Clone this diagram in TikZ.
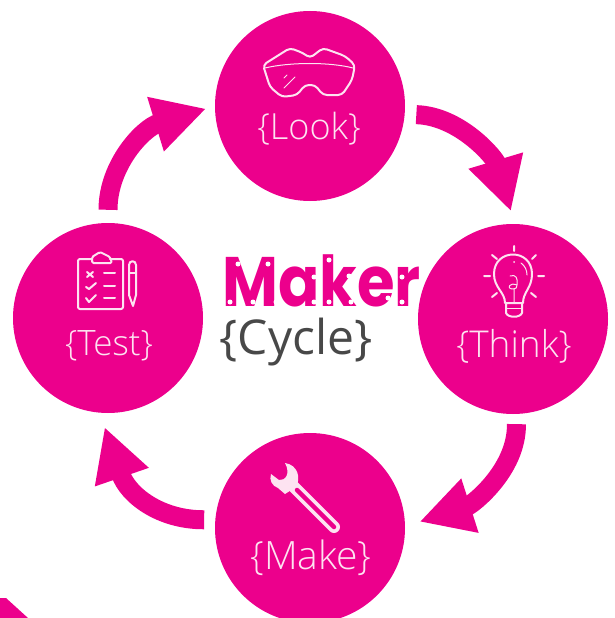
\documentclass[tikz,border=0pt]{standalone}
\usepackage{fontspec}
\usetikzlibrary{arrows.meta}
\setmainfont{Open Sans}
\newfontfamily\lightfont[UprightFont={* Light}]{Open Sans}
\newfontfamily\makerfont{Poppins}
\definecolor{makerpink}{HTML}{EC008C}
\definecolor{cyclegrey}{HTML}{484848}
\definecolor{iconwhite}{HTML}{FDE3F1}
\tikzset{
	stage/.style={circle, fill=makerpink, minimum size=190pt, inner sep=0pt},
	stagetext/.style={text=iconwhite, font=\lightfont\fontsize{#1}{#1}\selectfont, inner sep=0pt},
	flow/.style={draw=makerpink, line width=19pt, -{Triangle[length=53pt,width=53pt]}},
	icon/.style={draw=iconwhite, line width=2pt, line cap=round, line join=round}
}
\begin{document}
\begin{tikzpicture}[x=1pt,y=-1pt]
	\useasboundingbox (0,0) rectangle (615,618);
	\clip (0,0) rectangle (615,618);

	\node[stage] (look) at (310,106) {};
	\node[stage] (think) at (513,319) {};
	\node[stage] (make) at (310,528) {};
	\node[stage] (test) at (108,318) {};

	\node[stagetext=36] (looktext) at (309,129) {\{Look\}};
	\node[stagetext=37] (thinktext) at (514,346) {\{Think\}};
	\node[stagetext=39] (maketext) at (311,558) {\{Make\}};
	\node[stagetext=35] (testtext) at (109,346) {\{Test\}};

	\node[inner sep=0pt, anchor=base, text=makerpink, font=\makerfont\bfseries\fontsize{70}{70}\selectfont] (maker) at (321.5,306) {\scalebox{.87}[1]{Maker}};
	\node[inner sep=0pt, text=cyclegrey, font=\fontsize{48}{48}\selectfont] (cycle) at (296,342) {\{Cycle\}};
	\foreach \hx/\hy in {238/264,268/264,230/302,253/302,276/302,314/277,314/302,329/260,329/302,349/276,351/302,388/298,402/277,402/302}
		\fill[white] (\hx,\hy) circle (2.5);

	\draw[flow, shorten <=11.5pt, shorten >=13pt] (look.-5) .. controls (460,116) and (495,158) .. (think.89);
	\draw[flow, shorten <=10pt, shorten >=15pt] (think.-88) .. controls (517,470) and (472,505) .. (make.1);
	\draw[flow, shorten <=11pt, shorten >=15pt] (make.175) .. controls (160,520) and (128,495) .. (test.-95);
	\draw[flow, shorten <=13pt, shorten >=9pt] (test.90) .. controls (108,165) and (143,128) .. (look.180);

	% goggles
	\draw[icon, rounded corners=4pt] (263,65) -- (290,48) -- (303,53) -- (310,58) -- (323,48) -- (345,56) -- (355,65) -- (352,80) -- (342,95) -- (323,95) -- (315,85) -- (305,85) -- (297,95) -- (282,97) -- (270,87) -- cycle;
	\draw[icon, line width=1pt] (265,68) .. controls (290,62) and (330,62) .. (353,68);
	\draw[icon, line width=1pt] (284,78) -- (287,75) (284,88) -- (295,77);

	% clipboard and pencil
	\draw[icon, rounded corners=2pt] (92,259) -- (78,259) -- (78,309) -- (123,309) -- (123,259) -- (110,259);
	\draw[icon, rounded corners=1.5pt] (92,263) -- (92,257) -- (100,252) -- (110,257) -- (112,263) -- cycle;
	\draw[icon, line width=2pt] (87,272) -- (93,277) (93,272) -- (87,277);
	\draw[icon, line width=2pt] (86,287) -- (89,289) -- (96,283) (86,298) -- (89,302) -- (96,295);
	\draw[icon, line width=2pt] (104,273) -- (115,273) (104,286) -- (115,286) (104,298) -- (115,298);
	\draw[icon] (129,295) -- (129,265) .. controls (129,260) and (136,260) .. (136,265) -- (136,295) -- (133,306) -- cycle;
	\draw[icon] (129,273) -- (136,273);

	% bulb
	\draw[icon] (505,303) .. controls (505,292) and (494,288) .. (494,274) .. controls (494,248) and (532,248) .. (532,274) .. controls (532,288) and (523,292) .. (523,303);
	\draw[icon] (506,303) -- (522,303) -- (522,313) .. controls (520,318) and (508,318) .. (506,313) -- cycle;
	\draw[icon, line width=1pt] (506,308) -- (522,308);
	\draw[icon] (514,246) -- (514,251) (492,255) -- (497,259) (536,255) -- (532,259) (484,276) -- (490,276) (538,276) -- (544,276) (492,297) -- (497,293) (536,297) -- (531,293);
	\draw[icon, line width=1pt] (510,276) .. controls (516,274) and (518,278) .. (517,285) .. controls (510,282) and (506,288) .. (512,289) .. controls (516,289) and (518,287) .. (517,285) (514,289) -- (514,303);
	\draw[icon, line width=1pt] (521,263) .. controls (525,266) and (527,270) .. (527,275);
	\fill[iconwhite] (514,262) circle (1);

	% wrench
	\fill[iconwhite] (285,463) .. controls (298,465) and (301,478) .. (296,487) -- (285,494) -- (278,488) .. controls (272,486) and (269,480) .. (271,474) -- (279,480) .. controls (285,481) and (291,474) .. (285,463) -- cycle;
	\draw[iconwhite, line width=12pt, line cap=round] (290,483) -- (334,527);
	\draw[makerpink, line width=4.5pt, line cap=round] (297,490) -- (334,527);

	% corner
	\fill[makerpink] (0,598) -- (6,598) -- (28,618) -- (0,618) -- cycle;
\end{tikzpicture}
\end{document}
